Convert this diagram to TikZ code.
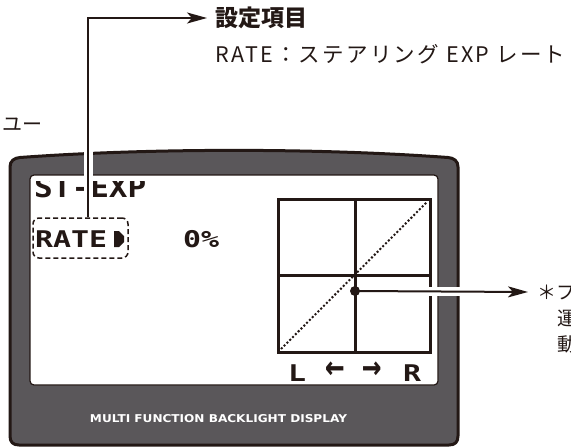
\documentclass[tikz,border=0pt]{standalone}
\usepackage{fontspec}
\usetikzlibrary{arrows.meta}
\newfontfamily\jp{Noto Sans CJK JP}
\newfontfamily\jpwide{Noto Sans CJK JP}[LetterSpace=10.5]
\newfontfamily\lcdfont{DejaVu Sans Mono}
\newfontfamily\panelfont{DejaVu Sans}
\definecolor{ink}{HTML}{231815}
\definecolor{bezel}{HTML}{5A575A}
\tikzset{
  conn/.style={draw=ink, line width=2pt},
  halo/.style={draw=white, line width=9pt},
  tip/.style={-{Stealth[length=20pt,width=11pt,inset=5pt]}},
  lcdtxt/.style={inner sep=0pt, font=\lcdfont\bfseries\fontsize{23}{23}\selectfont, text=ink},
  jptxt/.style={inner sep=0pt, font=\jp\fontsize{20}{26}\selectfont, text=ink},
  gridline/.style={draw=ink, line width=3pt}
}
\begin{document}
\begin{tikzpicture}[x=1pt,y=-1pt]
\clip (0,0) rectangle (571,447);
\fill[white] (0,0) rectangle (571,447);
% device body
\draw[ink, line width=3pt, fill=bezel]
  (10,436) -- (10,167)
  .. controls (10,161) and (14,158) .. (20,157.5)
  .. controls (150,148) and (318,148) .. (448,157.5)
  .. controls (454,158) and (458,161) .. (458,167)
  -- (458,436)
  .. controls (458,442) and (455,445) .. (449,445)
  -- (19,445)
  .. controls (13,445) and (10,442) .. (10,436) -- cycle;
% screen
\draw[ink, line width=1.2pt, fill=white, rounded corners=4pt] (30,175) rectangle (438,385);
% panel caption
\node[inner sep=0pt, text=white] (caption) at (218.5,419)
  {\resizebox{257pt}{8pt}{\panelfont\bfseries MULTI FUNCTION BACKLIGHT DISPLAY}};
% LCD texts
\begin{scope}
  \clip (30,181.5) rectangle (438,385);
  \node[lcdtxt, anchor=base west] (menu) at (34,197)
    {\scalebox{1.35}[1.22]{ST-EXP}};
\end{scope}
\node[lcdtxt, anchor=base west] (ratetxt) at (35,247) {\scalebox{1.3}[1.0]{RATE}};
\fill[ink] (114,231) -- (119,231) -- (124,236) -- (124,242) -- (119,247) -- (114,247) -- cycle;
\node[lcdtxt, anchor=base west] (val) at (183,247) {\scalebox{1.3}[1.0]{0\%}};
\node[draw=ink, line width=1.5pt, dashed, dash pattern=on 5pt off 3pt, rounded corners=6pt,
  minimum width=95pt, minimum height=40pt, inner sep=0pt] (rate) at (80.5,238) {};
% graph
\draw[gridline] (278,199) rectangle (430,352);
\draw[gridline] (355,199) -- (355,352);
\draw[gridline] (278,275) -- (430,275);
\draw[ink, line width=2pt, dash pattern=on 2pt off 2pt] (281,349) -- (427,202);
\node[lcdtxt, anchor=base] (lL) at (297,381) {\scalebox{1.3}[1.0]{L}};
\node[lcdtxt, anchor=base] (lR) at (412,381) {\scalebox{1.3}[1.0]{R}};
\node[lcdtxt, anchor=base] (la) at (335,379) {\scalebox{1.4}[1.7]{←}};
\node[lcdtxt, anchor=base] (ra) at (372,379) {\scalebox{1.4}[1.7]{→}};
\node[circle, fill=ink, inner sep=0pt, minimum size=10pt] (dot) at (355,291) {};
% title texts
\node[inner sep=0pt, inner xsep=8pt, anchor=west, text=ink,
  font=\jp\bfseries\fontsize{23}{23}\selectfont] (title) at (207,18) {設定項目};
\node[inner sep=0pt, anchor=west, text=ink, font=\jpwide\fontsize{21.5}{26}\selectfont]
  (desc) at (215,54) {RATE：ステアリング EXP レート};
\node[jptxt, anchor=east] (side) at (43,125) {ユー};
% note at right
\node[jptxt, anchor=west, font=\jp\fontsize{19}{19}\selectfont] (note1) at (537,292) {＊フ};
\node[jptxt, anchor=west, font=\jp\fontsize{19}{19}\selectfont] (note2) at (557,318) {運};
\node[jptxt, anchor=west, font=\jp\fontsize{19}{19}\selectfont] (note3) at (557,344) {動};
% connectors
\draw[halo] ([xshift=7.5pt]rate.north) -- ++(0,-80);
\draw[conn, tip] ([xshift=7.5pt]rate.north) |- (title.west);
\draw[halo] (425,291) -- (463,291);
\draw[conn, tip] (dot.center) -- ([xshift=-9pt]note1.west);
\end{tikzpicture}
\end{document}
